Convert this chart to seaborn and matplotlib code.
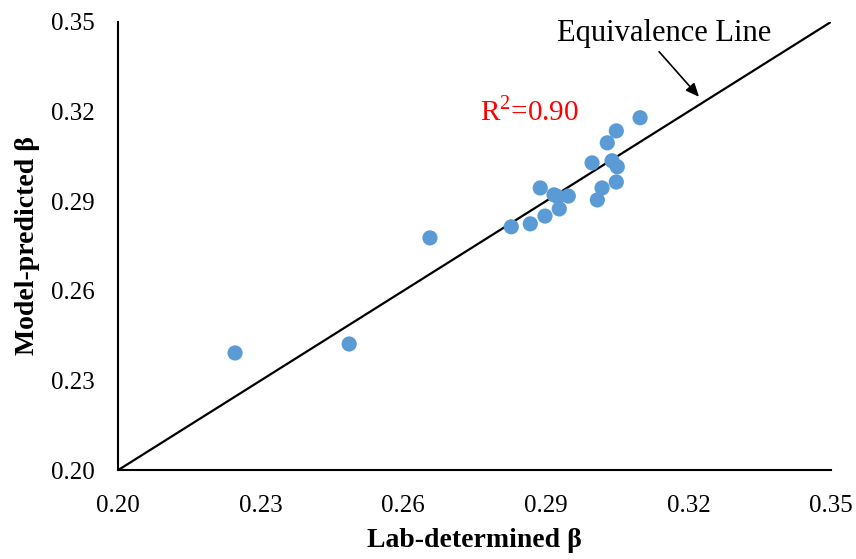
import matplotlib
matplotlib.use("Agg")
import matplotlib.pyplot as plt
import seaborn as sns
import pandas as pd

lab = [0.2246, 0.2486, 0.2656, 0.2827, 0.2867, 0.2898, 0.2928, 0.2888, 0.2917, 0.2947,
       0.2997, 0.3029, 0.3048, 0.3098, 0.3039, 0.3050, 0.3048, 0.3018, 0.3008, 0.2925]
pred = [0.2392, 0.2422, 0.2777, 0.2814, 0.2824, 0.2850, 0.2874, 0.2944, 0.2921, 0.2917,
        0.3028, 0.3095, 0.3135, 0.3179, 0.3035, 0.3015, 0.2964, 0.2944, 0.2904, 0.2915]
ticks = [0.20, 0.23, 0.26, 0.29, 0.32, 0.35]
tick_labels = ["0.20", "0.23", "0.26", "0.29", "0.32", "0.35"]

sns.set_style("white")
plt.rcParams['font.family'] = ['Liberation Serif', 'DejaVu Serif']
plt.rcParams['mathtext.fontset'] = 'custom'
plt.rcParams['mathtext.rm'] = 'Liberation Serif'
plt.rcParams['text.color'] = 'black'
plt.rcParams['axes.labelcolor'] = 'black'
plt.rcParams['xtick.color'] = 'black'
plt.rcParams['ytick.color'] = 'black'

df = pd.DataFrame({"lab": lab, "pred": pred})
fig = plt.figure(figsize=(8.56, 5.59), dpi=100)
ax = fig.add_axes([0.138, 0.159, 0.833, 0.802])

ax.plot([0.20, 0.35], [0.20, 0.35], color="black", lw=1.6, zorder=1)
sns.scatterplot(data=df, x="lab", y="pred", ax=ax, color="#5B9BD5", s=120,
                edgecolor="none", zorder=3)

ax.set_xlim(0.20, 0.35)
ax.set_ylim(0.20, 0.35)
ax.set_xticks(ticks)
ax.set_xticklabels(tick_labels)
ax.set_yticks(ticks)
ax.set_yticklabels(tick_labels)
ax.tick_params(direction="in", length=5, width=1.3, labelsize=18, colors="black")
ax.tick_params(axis="y", pad=17)
ax.tick_params(axis="x", pad=18)
for s in ["top", "right"]:
    ax.spines[s].set_visible(False)
for s in ["left", "bottom"]:
    ax.spines[s].set_color("black")
    ax.spines[s].set_linewidth(1.5)

ax.set_xlabel("Lab-determined β", fontsize=20, fontweight="bold", labelpad=8)
ax.set_ylabel("Model-predicted β", fontsize=20, fontweight="bold", labelpad=8)

ax.text(0.2761, 0.3199, r"R$^{\mathrm{2}}$=0.90", color="red", fontsize=21, va="center", ha="left")
ax.text(0.2924, 0.3462, "Equivalence Line", fontsize=22, ha="left", va="center")
ax.annotate("", xy=(0.3222, 0.3249), xytext=(0.3138, 0.3400),
            arrowprops=dict(arrowstyle="-|>,head_length=0.8,head_width=0.35",
                            color="black", lw=1.2, shrinkA=0, shrinkB=0))

fig.savefig("out.png", dpi=100)
